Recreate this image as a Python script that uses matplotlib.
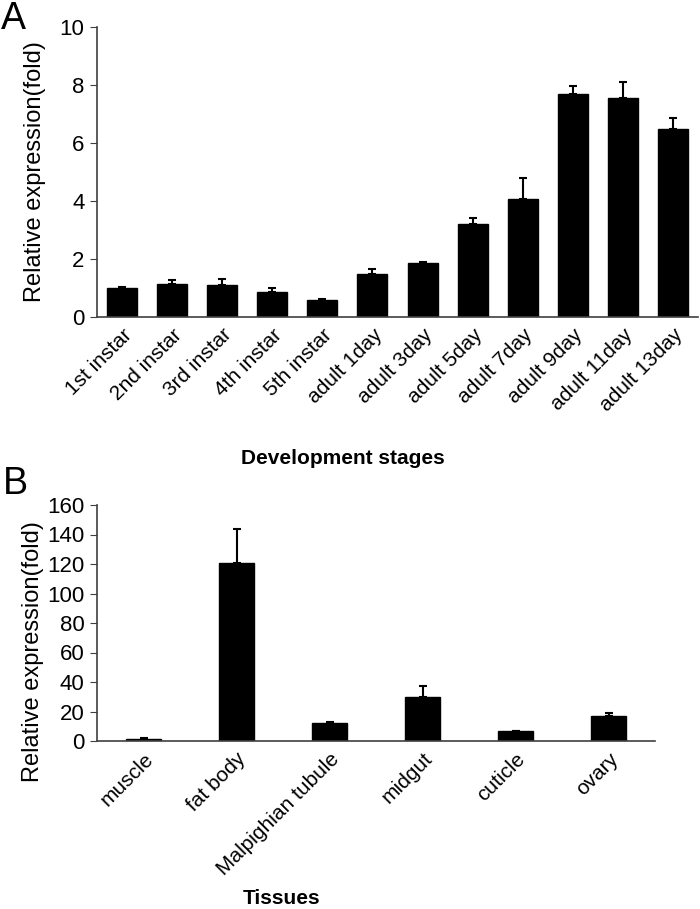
import numpy as np
import matplotlib

matplotlib.use("Agg")
import matplotlib.pyplot as plt

plt.rcParams.update({
    "font.family": ["Liberation Sans", "DejaVu Sans"],
    "font.size": 12,
    "axes.spines.top": False,
    "axes.spines.right": False,
})

# ---- panel A: development stages ----------------------------------------- #
STAGES = ["1st instar", "2nd instar", "3rd instar", "4th instar", "5th instar",
          "adult 1day", "adult 3day", "adult 5day", "adult 7day", "adult 9day",
          "adult 11day", "adult 13day"]
STAGE_MEAN = [1.0, 1.15, 1.12, 0.87, 0.6, 1.48, 1.85, 3.2, 4.07, 7.68, 7.56, 6.48]
STAGE_ERR = [0.02, 0.14, 0.2, 0.12, 0.02, 0.16, 0.05, 0.22, 0.71, 0.29, 0.53, 0.39]

# ---- panel B: tissues ------------------------------------------------------ #
TISSUES = ["muscle", "fat body", "Malpighian tubule", "midgut", "cuticle", "ovary"]
TISSUE_MEAN = [1.5, 120.5, 12.5, 29.5, 6.6, 16.8]
TISSUE_ERR = [0.4, 23.5, 0.5, 8.0, 0.5, 2.0]

AXIS = "#404040"
W, H = 700, 909


def style(ax):
    for side in ("left", "bottom"):
        ax.spines[side].set_color(AXIS)
        ax.spines[side].set_linewidth(1.2)
    ax.tick_params(axis="y", direction="out", length=5, color=AXIS, labelsize=16, pad=4)
    ax.tick_params(axis="x", length=0, labelsize=15, pad=6)
    ax.set_ylabel("Relative expression(fold)", fontsize=17)


def bars(ax, labels, mean, err, width):
    x = np.arange(len(labels))
    yerr = [np.zeros(len(err)), err]
    ax.bar(x, mean, width=width, color="black", edgecolor="black")
    ax.errorbar(x, mean, yerr=yerr, fmt="none", ecolor="black",
                elinewidth=1.5, capsize=3, capthick=1.5)
    ax.set_xticks(x)
    ax.set_xticklabels(labels, rotation=45, ha="right", rotation_mode="anchor")
    ax.set_xlim(-0.5, len(labels) - 0.5)


fig = plt.figure(figsize=(W / 100, H / 100), dpi=100)

# panel A axes: x 97..698 px, y 27..317 px
axA = fig.add_axes([97 / W, 1 - 317 / H, (698 - 97) / W, (317 - 27) / H])
bars(axA, STAGES, STAGE_MEAN, STAGE_ERR, 0.6)
axA.set_ylim(0, 10)
axA.set_yticks(range(0, 11, 2))
style(axA)
axA.yaxis.set_label_coords(-0.085, 0.5)

# panel B axes: x 97..655 px, y 505..741 px
axB = fig.add_axes([97 / W, 1 - 741 / H, (655 - 97) / W, (741 - 505) / H])
bars(axB, TISSUES, TISSUE_MEAN, TISSUE_ERR, 0.38)
axB.set_ylim(0, 160)
axB.set_yticks(range(0, 161, 20))
style(axB)
axB.yaxis.set_label_coords(-0.095, 0.38)

fig.text(343 / W, 1 - 458 / H, "Development stages", fontsize=15,
         fontweight="bold", ha="center", va="center")
fig.text(282 / W, 1 - 898 / H, "Tissues", fontsize=15,
         fontweight="bold", ha="center", va="center")
fig.text(1 / W, 1 - 29 / H, "A", fontsize=27, ha="left", va="baseline")
fig.text(3 / W, 1 - 494 / H, "B", fontsize=27, ha="left", va="baseline")

fig.savefig("out.png", dpi=100)
